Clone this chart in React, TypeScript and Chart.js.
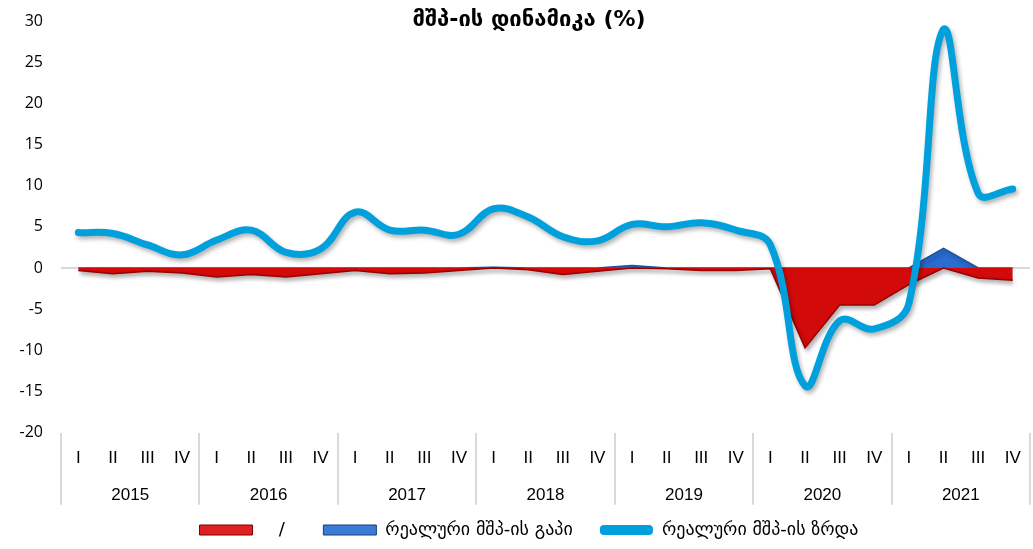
import React, { useEffect, useRef } from 'react';
import { Chart, registerables } from 'chart.js';

Chart.register(...registerables);

const titleText = 'მშპ-ის დინამიკა (%)';
const years = ['2015', '2016', '2017', '2018', '2019', '2020', '2021'];
const quarterLabels = [
  'I', 'II', 'III', 'IV',
  'I', 'II', 'III', 'IV',
  'I', 'II', 'III', 'IV',
  'I', 'II', 'III', 'IV',
  'I', 'II', 'III', 'IV',
  'I', 'II', 'III', 'IV',
  'I', 'II', 'III', 'IV',
];
const growth = [
  4.3, 4.2, 2.8, 1.6,
  3.4, 4.6, 1.9, 2.3,
  6.8, 4.6, 4.6, 4.1,
  7.2, 6.2, 3.8, 3.3,
  5.3, 5.0, 5.5, 4.6,
  2.8, -14.3, -6.4, -7.4,
  -4.3, 29.0, 9.1, 9.6,
];
const gapNegative = [
  -0.3, -0.7, -0.4, -0.6,
  -1.1, -0.8, -1.1, -0.7,
  -0.3, -0.7, -0.6, -0.3,
  0, -0.2, -0.8, -0.4,
  0, -0.1, -0.3, -0.3,
  -0.1, -9.7, -4.5, -4.5,
  -2.0, 0, -1.2, -1.5,
];
const gapPositive = [
  0, 0, 0, 0,
  0, 0, 0, 0,
  0, 0, 0, 0,
  0.1, 0, 0, 0,
  0.3, 0, 0, 0,
  0, 0, 0, 0,
  0, 2.4, 0, 0,
];
const yMin = -20;
const yMax = 30;
const yStep = 5;
const legendLabels = ['   /     ', 'რეალური მშპ-ის გაპი   ', 'რეალური მშპ-ის ზრდა'];

const axisFont = "'Liberation Sans', Arial, sans-serif";
const geoFont = "'DejaVu Sans', sans-serif";

const shadowPlugin = {
  id: 'softShadow',
  afterLayout(chart: any) {
    if (chart.titleBlock) chart.titleBlock.left = 28;
    if (chart.legend) chart.legend.left = 28;
  },
  beforeDatasetsDraw(chart: any) {
    const c = chart.ctx;
    c.save();
    c.shadowColor = 'rgba(0,0,0,0.3)';
    c.shadowBlur = 4;
    c.shadowOffsetX = 2;
    c.shadowOffsetY = 3;
  },
  afterDatasetsDraw(chart: any) {
    chart.ctx.restore();
  },
};

export default function App() {
  const ref = useRef<HTMLCanvasElement>(null);

  useEffect(() => {
    const canvas = ref.current;
    if (!canvas) return;
    const chart = new Chart(canvas, {
      type: 'line',
      data: {
        labels: quarterLabels,
        datasets: [
          {
            label: legendLabels[0],
            data: gapNegative,
            fill: 'origin',
            backgroundColor: '#d20a0a',
            borderColor: '#9a0000',
            borderWidth: 1.5,
            pointRadius: 0,
            tension: 0,
            order: 2,
          },
          {
            label: legendLabels[1],
            data: gapPositive,
            fill: 'origin',
            backgroundColor: '#2a6cd0',
            borderColor: '#1d4f9e',
            borderWidth: 1.5,
            pointRadius: 0,
            tension: 0,
            order: 3,
          },
          {
            label: legendLabels[2],
            data: growth,
            fill: false,
            borderColor: '#00a0dc',
            backgroundColor: '#00a0dc',
            borderWidth: 7,
            pointRadius: 0,
            tension: 0.4,
            borderCapStyle: 'round',
            borderJoinStyle: 'round',
            order: 1,
          },
        ],
      } as any,
      options: {
        animation: false,
        responsive: true,
        maintainAspectRatio: false,
        devicePixelRatio: 1,
        layout: { padding: { left: 0, right: 3, top: 0, bottom: 0 } },
        plugins: {
          tooltip: { enabled: false },
          title: {
            display: true,
            text: titleText,
            color: '#000',
            font: { family: geoFont, size: 22, weight: 'bold', lineHeight: 1.2 },
            padding: { top: 7, bottom: -12.4 },
          },
          legend: {
            display: true,
            position: 'bottom',
            labels: {
              boxWidth: 53,
              boxHeight: 10,
              padding: 10,
              color: '#000',
              font: { family: geoFont, size: 18 },
              generateLabels: () => [
                { text: legendLabels[0], fillStyle: '#e02020', strokeStyle: '#7a0000', lineWidth: 1, hidden: false, datasetIndex: 0, fontColor: '#000' },
                { text: legendLabels[1], fillStyle: '#3a7bd5', strokeStyle: '#1b3c78', lineWidth: 1, hidden: false, datasetIndex: 1, fontColor: '#000' },
                { text: legendLabels[2], fillStyle: '#00a0dc', strokeStyle: '#00a0dc', lineWidth: 0, borderRadius: 4, hidden: false, datasetIndex: 2, fontColor: '#000' },
              ],
            },
          },
        },
        scales: {
          x: {
            type: 'category',
            offset: true,
            weight: 1,
            border: { display: false },
            grid: {
              display: true,
              drawOnChartArea: false,
              offset: true,
              tickLength: 72,
              lineWidth: 2,
              color: (c: any) => (c.index === undefined || c.index % 4 === 0 ? '#d9d9d9' : 'rgba(0,0,0,0)'),
            },
            ticks: {
              autoSkip: false,
              maxRotation: 0,
              padding: -57,
              color: '#000',
              font: { family: axisFont, size: 17 },
            },
            afterFit: (s: any) => { s.height = 36.3; },
          },
          x2: {
            type: 'category',
            labels: years,
            offset: true,
            position: 'bottom',
            weight: 2,
            border: { display: false },
            grid: { display: false },
            ticks: {
              autoSkip: false,
              maxRotation: 0,
              padding: 8,
              color: '#000',
              font: { family: axisFont, size: 17 },
            },
            afterFit: (s: any) => { s.height = 42; },
          },
          y: {
            min: yMin,
            max: yMax,
            border: { display: false },
            grid: {
              drawTicks: false,
              lineWidth: 2,
              color: (c: any) => (c.tick && c.tick.value === 0 ? '#d9d9d9' : 'rgba(0,0,0,0)'),
            },
            ticks: {
              stepSize: yStep,
              padding: 18,
              color: '#000',
              font: { family: "'Open Sans', sans-serif", size: 16 },
            },
            afterFit: (s: any) => {
              s.width = 61;
              s.paddingTop = 10;
              s.paddingBottom = 10;
            },
          },
        },
      } as any,
      plugins: [shadowPlugin],
    });
    return () => chart.destroy();
  }, []);

  return (
    <div style={{ position: 'absolute', left: 0, top: 0, width: 1033, height: 549 }}>
      <canvas ref={ref} />
    </div>
  );
}
